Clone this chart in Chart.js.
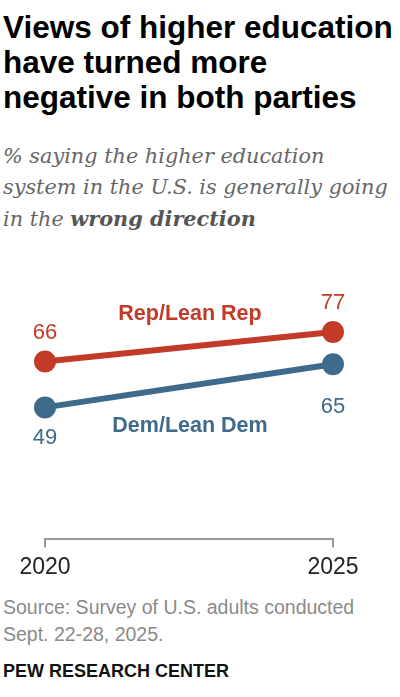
<!DOCTYPE html>
<html lang="en">
<head>
<meta charset="UTF-8">
<title>Views of higher education</title>
<script src="https://cdn.jsdelivr.net/npm/chart.js"></script>
<style>
    body { margin: 0; width: 400px; height: 697px; background: #fff; position: relative; overflow: hidden; }
    .title { position: absolute; left: 3px; top: 10px; width: 397px; white-space: nowrap; font-family: "Liberation Sans", Arial, sans-serif; font-weight: bold; font-size: 31.5px; line-height: 35px; color: #000; }
    .subtitle { position: absolute; left: 3px; top: 141px; width: 397px; white-space: nowrap; font-family: "DejaVu Serif", serif; font-style: italic; font-size: 20.8px; line-height: 31px; color: #666; }
    .subtitle b { color: #555; }
    .chart-box { position: absolute; left: 0; top: 250px; width: 400px; height: 337px; }
    .source { position: absolute; left: 3px; top: 594px; font-family: "Liberation Sans", Arial, sans-serif; font-size: 19.5px; line-height: 27px; color: #8a8a8a; }
    .brand { position: absolute; left: 3px; top: 661px; font-family: "Liberation Sans", Arial, sans-serif; font-weight: bold; font-size: 18px; color: #111; }
</style>
</head>
<body>
<div class="title">Views of higher education<br>have turned more<br>negative in both parties</div>
<div class="subtitle">% saying the higher education<br>system in the U.S. is generally going<br>in the <b>wrong direction</b></div>
<div class="chart-box"><canvas id="eduChart"></canvas></div>
<div class="source">Source: Survey of U.S. adults conducted<br>Sept. 22-28, 2025.</div>
<div class="brand">PEW RESEARCH CENTER</div>

<script>
    // data
    var years = ['2020', '2025'];
    var repValues = [66, 77];
    var demValues = [49, 65];
    var seriesNames = ['Rep/Lean Rep', 'Dem/Lean Dem'];

    var repColor = '#c23b28';
    var demColor = '#3e6a8b';

    // value labels + series names drawn next to the points
    var labelPlugin = {
        id: 'pointLabels',
        afterDatasetsDraw: function(chart) {
            var ctx = chart.ctx;
            var xs = chart.scales.x, ys = chart.scales.y;
            ctx.save();
            ctx.textAlign = 'center';
            ctx.textBaseline = 'middle';
            ctx.font = '22px "Liberation Sans", Arial, sans-serif';
            var offsets = [[-29, -29], [31, 43]];
            chart.data.datasets.forEach(function(ds, i) {
                var meta = chart.getDatasetMeta(i);
                ctx.fillStyle = ds.borderColor;
                meta.data.forEach(function(pt, j) {
                    ctx.fillText(ds.data[j], pt.x, pt.y + offsets[i][j]);
                });
            });
            // series names between the two years
            ctx.font = 'bold 21.5px "Liberation Sans", Arial, sans-serif';
            var midX = xs.getPixelForValue(0.5) + 1;
            ctx.fillStyle = repColor;
            ctx.fillText(seriesNames[0], midX, ys.getPixelForValue(83.5));
            ctx.fillStyle = demColor;
            ctx.fillText(seriesNames[1], midX, ys.getPixelForValue(42));
            ctx.restore();
        }
    };

    var ctx = document.getElementById('eduChart').getContext('2d');
    new Chart(ctx, {
        type: 'line',
        data: {
            labels: years,
            datasets: [{
                label: seriesNames[0],
                data: repValues,
                borderColor: repColor,
                backgroundColor: repColor,
                borderWidth: 6,
                pointRadius: 8,
                pointHoverRadius: 8
            }, {
                label: seriesNames[1],
                data: demValues,
                borderColor: demColor,
                backgroundColor: demColor,
                borderWidth: 6,
                pointRadius: 8,
                pointHoverRadius: 8
            }]
        },
        options: {
            responsive: true,
            maintainAspectRatio: false,
            animation: false,
            layout: { padding: { left: 45, right: 67, top: 20, bottom: 0 } },
            plugins: { legend: { display: false }, tooltip: { enabled: false } },
            scales: {
                y: { display: false, min: 0, max: 100 },
                x: {
                    offset: false,
                    border: { display: true, color: '#999', width: 2 },
                    grid: { drawOnChartArea: false, drawTicks: true, tickLength: 8, color: '#999', lineWidth: 2 },
                    ticks: { color: '#222', padding: 6, font: { size: 23, family: '"Liberation Sans", Arial, sans-serif' }, maxRotation: 0 }
                }
            }
        },
        plugins: [labelPlugin]
    });
</script>
</body>
</html>
